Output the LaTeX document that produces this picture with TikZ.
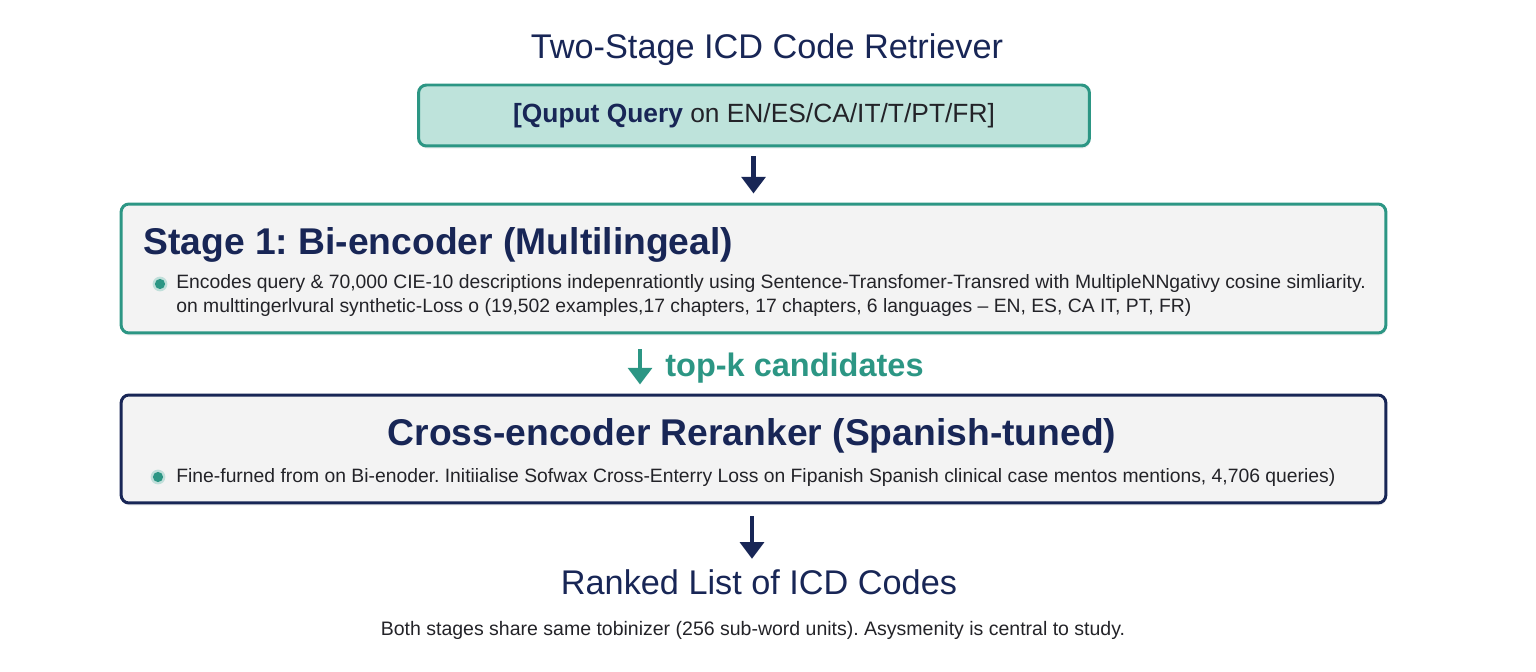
\documentclass[tikz,border=0pt]{standalone}
\usepackage{fontspec}
\setmainfont{Liberation Sans}
\usetikzlibrary{arrows.meta, positioning, shadows}
\definecolor{navyBlue}{RGB}{24, 38, 86}
\definecolor{tealLine}{RGB}{44, 150, 132}
\definecolor{tealFill}{RGB}{190, 227, 219}
\definecolor{boxGray}{RGB}{243, 243, 243}
\definecolor{textDark}{RGB}{35, 35, 40}
\frenchspacing

\tikzset{
  stagebox/.style={draw, line width=1.7pt, rounded corners=4.5pt, fill=boxGray,
    minimum width=25.3cm, inner sep=0pt,
    drop shadow={opacity=0.12, shadow xshift=0.5pt, shadow yshift=-1.5pt}},
  bigtitle/.style={font=\fontsize{19.5}{22}\selectfont, text=navyBlue, inner sep=0pt},
  stagetitle/.style={font=\bfseries\fontsize{21.2}{24}\selectfont, text=navyBlue, inner sep=0pt},
  bodytext/.style={font=\fontsize{11}{13}\selectfont, text=textDark, inner sep=0pt},
  flowarrow/.style={line width=2.8pt, -{Triangle[width=13.5pt, length=9.5pt]}},
  bulletdot/.style={fill=tealLine}
}

\begin{document}
\begin{tikzpicture}[x=0.02cm, y=-0.02cm]
  \useasboundingbox (0,0) rectangle (1536,672);

  % Title
  \node[bigtitle, anchor=base] (title) at (767,59) {Two-Stage ICD Code Retriever};

  % Input query
  \node[draw=tealLine, line width=1.7pt, fill=tealFill, rounded corners=4.5pt,
    minimum width=13.42cm, minimum height=1.22cm, inner sep=0pt,
    drop shadow={opacity=0.12, shadow xshift=0.5pt, shadow yshift=-1.5pt},
    font=\fontsize{15}{18}\selectfont, text=textDark] (query) at (754,115.5)
    {\textcolor{navyBlue}{\bfseries [Quput Query} on EN/ES/CA/IT/T/PT/FR]};

  % Stage 1
  \node[stagebox, draw=tealLine, minimum height=2.58cm] (s1) at (753.5,268.5) {};
  \node[stagetitle, anchor=base west] (s1title) at (143,255) {Stage 1: Bi-encoder (Multilingeal)};
  \fill[tealLine!30] (160,284) circle (4.2pt);
  \fill[bulletdot] (160,284) circle (2.9pt);
  \node[bodytext, anchor=base west] (s1line1) at (176,289)
    {Encodes query \& 70,000 CIE-10 descriptions indepenrationtly using Sentence-Transfomer-Transred with MultipleNNgativy cosine simliarity.};
  \node[bodytext, anchor=base west] (s1line2) at (176,313)
    {on multtingerlvural synthetic-Loss o (19,502 examples,17 chapters, 17 chapters, 6 languages -- EN, ES, CA IT, PT, FR)};

  % Stage 2
  \node[stagebox, draw=navyBlue, minimum height=2.16cm] (s2) at (753.5,449) {};
  \node[stagetitle, anchor=base] (s2title) at (752,445) {Cross-encoder Reranker (Spanish-tuned)};
  \fill[tealLine!30] (158,477) circle (4.2pt);
  \fill[bulletdot] (158,477) circle (2.9pt);
  \node[bodytext, anchor=base west] (s2line1) at (176,482)
    {Fine-furned from on Bi-enoder. Initiialise Sofwax Cross-Enterry Loss on Fipanish Spanish clinical case mentos mentions, 4,706 queries)};

  % Output
  \node[bigtitle, anchor=base] (ranked) at (759,594) {Ranked List of ICD Codes};
  \node[bodytext, anchor=base, font=\fontsize{11.1}{13}\selectfont] (note) at (753,635)
    {Both stages share same tobinizer (256 sub-word units). Asysmenity is central to study.};

  % Arrows
  \draw[flowarrow, navyBlue, shorten <=0.18cm, shorten >=0.18cm] (query.south -| s1.north) -- (s1.north);
  \coordinate (kx) at (640,368);
  \coordinate (rx) at (752,560);
  \node[anchor=west, inner sep=0pt, font=\bfseries\fontsize{18.5}{22}\selectfont, text=tealLine]
    (topk) at (665,368) {top-k candidates};
  \draw[flowarrow, tealLine, shorten <=0.3cm, shorten >=0.18cm] (s1.south -| kx) -- (s2.north -| kx);
  \draw[flowarrow, navyBlue, shorten <=0.24cm, shorten >=0.2cm] (s2.south -| rx) -- (ranked.north -| rx);
\end{tikzpicture}
\end{document}
